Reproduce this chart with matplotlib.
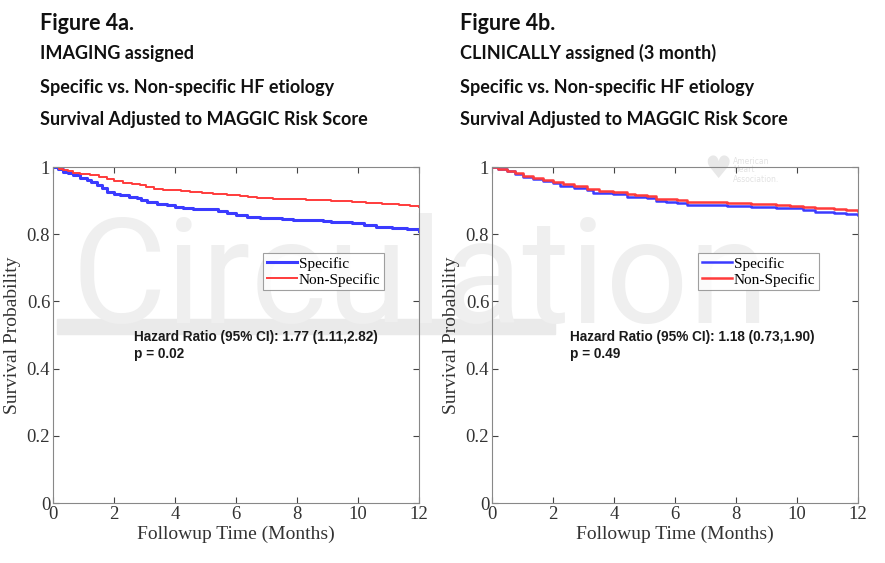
import numpy as np
import matplotlib
matplotlib.use('Agg')
import matplotlib.pyplot as plt

# step points (months, survival)
t_a_spec = [0, 0.15, 0.34, 0.5, 0.67, 0.9, 1.1, 1.25, 1.43, 1.6, 1.76, 2.0, 2.2, 2.5, 2.74, 2.9, 3.07, 3.4, 3.73, 4.0,
            4.27, 4.6, 5.04, 5.4, 5.7, 6.0, 6.35, 6.8, 7.22, 7.5, 7.88, 8.4, 8.86, 9.1, 9.41, 9.8, 10.2, 10.6, 11.1, 11.6, 12]
s_a_spec = [1.0, .993, .986, .981, .976, .968, .961, .955, .946, .938, .926, .921, .916, .912, .909, .903, .896, .891, .887, .882,
            .877, .876, .874, .868, .862, .856, .85, .848, .847, .845, .842, .841, .84, .837, .835, .832, .828, .822, .817, .814, .81]
t_a_non = [0, 0.2, 0.34, 0.5, 0.67, 0.9, 1.2, 1.5, 1.76, 2.0, 2.3, 2.6, 2.84, 3.05, 3.3, 3.6, 3.94, 4.2, 4.49,
           4.9, 5.25, 5.7, 6.13, 6.4, 6.68, 7.2, 7.77, 8.3, 8.86, 9.1, 9.4, 9.8, 10.25, 10.8, 11.35, 11.7, 12]
s_a_non = [1.0, .994, .99, .987, .983, .98, .976, .97, .963, .957, .951, .948, .946, .941, .936, .933, .931, .929, .926,
           .923, .921, .918, .914, .911, .909, .906, .904, .902, .901, .899, .898, .897, .894, .891, .888, .885, .882]

t_b_spec = [0, 0.2, 0.48, 0.75, 1.03, 1.35, 1.68, 2.0, 2.23, 2.7, 3.1, 3.32, 3.98, 4.41, 4.7, 5.07, 5.39, 5.7, 6.05, 6.38,
            7.0, 7.69, 8.13, 8.5, 8.9, 9.3, 9.77, 10.2, 10.6, 11.2, 11.6, 12]
s_b_spec = [1.0, .995, .988, .979, .971, .965, .958, .951, .943, .938, .932, .924, .92, .912, .91, .908, .899, .896, .893, .888,
            .886, .884, .883, .882, .881, .879, .877, .872, .867, .863, .86, .857]
t_b_non = [0, 0.2, 0.48, 0.75, 1.03, 1.35, 1.68, 2.0, 2.34, 2.7, 3.1, 3.5, 3.98, 4.41, 4.7, 5.07, 5.39, 5.7, 6.05, 6.38,
           7.0, 7.69, 8.13, 8.5, 8.9, 9.3, 9.77, 10.2, 10.6, 11.2, 11.6, 12]
s_b_non = [1.0, .995, .989, .981, .974, .968, .962, .955, .949, .942, .936, .93, .926, .919, .917, .915, .906, .904, .902, .897,
           .896, .894, .893, .891, .89, .887, .885, .881, .877, .874, .872, .87]

panel_titles = [
    ['Figure 4a.', 'IMAGING assigned', 'Specific vs. Non-specific HF etiology', 'Survival Adjusted to MAGGIC Risk Score'],
    ['Figure 4b.', 'CLINICALLY assigned (3 month)', 'Specific vs. Non-specific HF etiology', 'Survival Adjusted to MAGGIC Risk Score'],
]
hr_text = ['Hazard Ratio (95% CI): 1.77 (1.11,2.82)\np = 0.02',
           'Hazard Ratio (95% CI): 1.18 (0.73,1.90)\np = 0.49']
xticks = [0, 2, 4, 6, 8, 10, 12]
yticks = [0, 0.2, 0.4, 0.6, 0.8, 1]
ytick_labels = ['0', '0.2', '0.4', '0.6', '0.8', '1']

W, H = 885, 563
fig = plt.figure(figsize=(W / 100, H / 100), dpi=100)

BLUE = '#3b3bff'
RED = '#ff3b3b'
serif = 'Liberation Serif'

panels = [
    (53, (t_a_spec, s_a_spec), (t_a_non, s_a_non), 2.2, 1.4, 40, 263),
    (492, (t_b_spec, s_b_spec), (t_b_non, s_b_non), 1.8, 1.8, 460, 698),
]

for i, (x0, spec, non, lw_s, lw_n, tx, lx) in enumerate(panels):
    ax = fig.add_axes([x0 / W, (H - 503) / H, 366 / W, 336 / H])
    ax.set_facecolor('none')
    ax.plot(spec[0], spec[1], drawstyle='steps-post', color=BLUE, lw=lw_s, label='Specific')
    ax.plot(non[0], non[1], drawstyle='steps-post', color=RED, lw=lw_n, label='Non-Specific')
    ax.set_xlim(0, 12)
    ax.set_ylim(0, 1)
    ax.set_xticks(xticks)
    ax.set_xticklabels([str(v) for v in xticks], family=serif, fontsize=13.5, color='#333333')
    ax.set_yticks(yticks)
    ax.set_yticklabels(ytick_labels, family=serif, fontsize=13.5, color='#333333')
    ax.tick_params(direction='in', length=4, top=True, right=True, color='#444444', pad=2)
    for sp in ax.spines.values():
        sp.set_color('#888888')
        sp.set_linewidth(0.8)
    ax.set_xlabel('Followup Time (Months)', family=serif, fontsize=14, color='#333333', labelpad=2)
    ax.set_ylabel('Survival Probability', family=serif, fontsize=14, color='#333333', labelpad=4)
    leg = ax.legend(loc='upper left', bbox_to_anchor=((lx - x0) / 366, (503 - 253) / 336),
                    prop={'family': serif, 'size': 11}, frameon=True, fancybox=False,
                    handlelength=2.0, handletextpad=0.1, borderpad=0.25, labelspacing=0.15,
                    borderaxespad=0)
    leg.get_frame().set_edgecolor('#888888')
    leg.get_frame().set_linewidth(0.8)
    ax.text(2.65 if i == 0 else 2.56, 0.515, hr_text[i], family='Liberation Sans', fontweight='bold',
            fontsize=9.8, color='#1a1a1a', va='top', linespacing=1.25)

    # headings above each panel
    ys = [23, 53, 87, 120]
    for k, s in enumerate(panel_titles[i]):
        fig.text(tx / W, 1 - ys[k] / H, s, family='Lato', fontweight='bold',
                 fontsize=15.5 if k == 0 else 13, color='#111111', va='center', ha='left')

# journal watermark behind the curves
fig.text(72 / W, 1 - 323 / H, 'Circulation', family='Roboto', fontweight='normal', fontsize=105,
         color='#efefef', va='baseline', ha='left', zorder=-5)
fig.patches.append(plt.Rectangle((57 / W, 1 - 334 / H), (555 - 57) / W, 15 / H,
                                 transform=fig.transFigure, color='#eaeaea', zorder=-5))
fig.text(733 / W, 1 - 170 / H, 'American\nHeart\nAssociation.', family='DejaVu Sans', fontsize=5.5,
         color='#e2e2e2', va='center', ha='left', linespacing=1.0, zorder=-4)
fig.text(718 / W, 1 - 170 / H, '\u2665', family='DejaVu Sans', fontsize=22,
         color='#e8e8e8', va='center', ha='center', zorder=-4)

fig.savefig('out.png', dpi=100, facecolor='white')
